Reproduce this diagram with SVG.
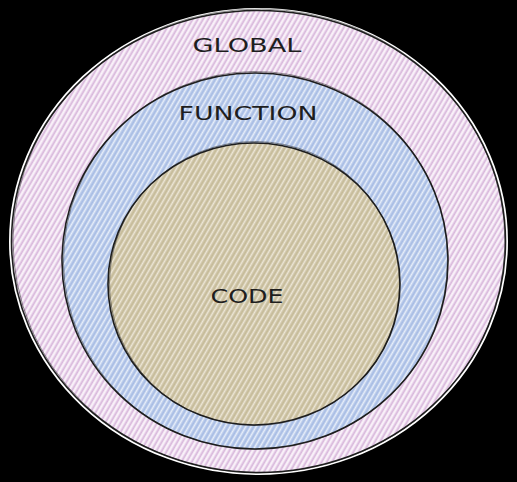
<svg xmlns="http://www.w3.org/2000/svg" width="517" height="482" viewBox="0 0 517 482">
<style>
.edge{fill:none;stroke:#1e1e1e;stroke-width:1.6}
.edge2{fill:none;stroke:#1e1e1e;stroke-width:0.8;opacity:0.6}
.lbl{font-family:"DejaVu Sans","Liberation Sans",sans-serif;font-size:19px;fill:#1e1e1e;text-anchor:middle}
</style>
<defs>
<pattern id="hPink" width="4.5" height="4.5" patternUnits="userSpaceOnUse" patternTransform="rotate(30)">
<rect width="4.5" height="4.5" fill="#f2e4f2"/>
<line x1="1" y1="0" x2="1" y2="4.5" stroke="#cfa9d4" stroke-width="1.1"/>
<line x1="3.2" y1="0" x2="3.2" y2="4.5" stroke="#fcf6fc" stroke-width="0.9"/>
</pattern>
<pattern id="hBlue" width="4.5" height="4.5" patternUnits="userSpaceOnUse" patternTransform="rotate(30)">
<rect width="4.5" height="4.5" fill="#c3d3ee"/>
<line x1="1" y1="0" x2="1" y2="4.5" stroke="#9db3e0" stroke-width="1.1"/>
<line x1="3.2" y1="0" x2="3.2" y2="4.5" stroke="#eaf0fa" stroke-width="0.9"/>
</pattern>
<pattern id="hTan" width="4.5" height="4.5" patternUnits="userSpaceOnUse" patternTransform="rotate(30)">
<rect width="4.5" height="4.5" fill="#d6ccb3"/>
<line x1="1" y1="0" x2="1" y2="4.5" stroke="#bfb48e" stroke-width="1.1"/>
<line x1="3.2" y1="0" x2="3.2" y2="4.5" stroke="#eee9d8" stroke-width="0.9"/>
</pattern>
</defs>
<rect width="517" height="482" fill="#000"/>
<g id="global">
<ellipse cx="258.5" cy="241.5" rx="248" ry="232" fill="#fff" stroke="#fff" stroke-width="3"/>
<ellipse cx="258.5" cy="241.5" rx="247" ry="231" fill="url(#hPink)"/>
<ellipse class="edge" cx="258.5" cy="241.5" rx="247" ry="231"/>
<ellipse class="edge2" cx="259" cy="241" rx="246" ry="232" transform="rotate(0.6 259 241)"/>
<text class="lbl" x="247" y="52" textLength="109" lengthAdjust="spacingAndGlyphs">GLOBAL</text>
</g>
<g id="function">
<ellipse cx="255" cy="261" rx="193" ry="188" fill="url(#hBlue)"/>
<ellipse class="edge" cx="255" cy="261" rx="193" ry="188"/>
<ellipse class="edge2" cx="255.5" cy="260.5" rx="192" ry="189" transform="rotate(-0.8 255 261)"/>
<text class="lbl" x="248" y="120" textLength="139" lengthAdjust="spacingAndGlyphs">FUNCTION</text>
</g>
<g id="code">
<ellipse cx="254" cy="284" rx="146" ry="141" fill="url(#hTan)"/>
<ellipse class="edge" cx="254" cy="284" rx="146" ry="141"/>
<ellipse class="edge2" cx="254.5" cy="283.5" rx="145" ry="142" transform="rotate(0.7 254 284)"/>
<text class="lbl" x="247" y="303" textLength="73" lengthAdjust="spacingAndGlyphs">CODE</text>
</g>
<g id="connectors"/>
</svg>
